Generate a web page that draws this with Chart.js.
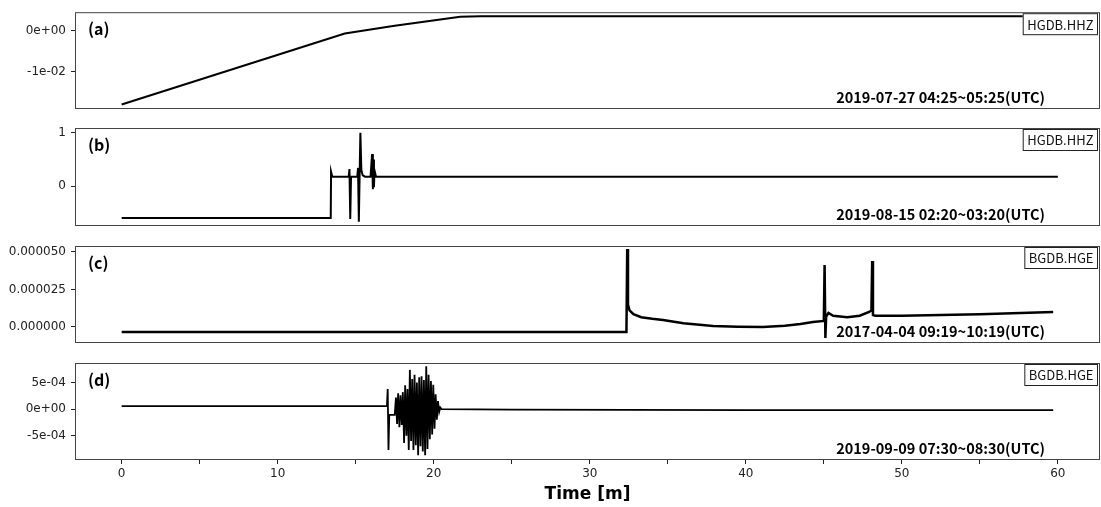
<!DOCTYPE html>
<html>
<head>
<meta charset="utf-8">
<script src="https://cdn.jsdelivr.net/npm/chart.js@4.4.1/dist/chart.umd.min.js"></script>
<style>
    html, body { margin: 0; padding: 0; background: #fff; }
    #wrap { position: relative; width: 1101px; height: 507px; }
    #wrap canvas { position: absolute; left: 0; top: 0; }
</style>
</head>
<body>
<div id="wrap">
    <canvas id="panelA" width="1101" height="507"></canvas>
    <canvas id="panelB" width="1101" height="507"></canvas>
    <canvas id="panelC" width="1101" height="507"></canvas>
    <canvas id="panelD" width="1101" height="507"></canvas>
</div>
<script>
// time axis (minutes)
const xMin = -2.99;
const xMax = 62.7;
const xTickValues = [0, 5, 10, 15, 20, 25, 30, 35, 40, 45, 50, 55, 60];
const xTickLabels = ['0', '', '10', '', '20', '', '30', '', '40', '', '50', '', '60'];

// (a) HGDB.HHZ 2019-07-27
const timeA = [0, 14.3, 17.5, 21.7, 23, 60];
const valuesA = [-0.018, -0.0007, 0.0012, 0.0034, 0.0035, 0.0035];
const yTicksA = [0, -0.01];
const yLabelsA = ['0e+00', '-1e-02'];

// (b) HGDB.HHZ 2019-08-15
const timeB = [0, 13.4, 13.42, 13.5, 14.55, 14.6, 14.65, 14.7, 15.1, 15.15, 15.2, 15.25, 15.3, 15.36, 15.45, 15.6,
    15.95, 16.05, 16.1, 16.13, 16.17, 16.2, 16.3, 60];
const valuesB = [-0.6, -0.6, 0.27, 0.175, 0.175, 0.32, -0.62, 0.175, 0.175, 0.34, -0.67, 0.2, 1.0, 0.3, 0.2, 0.175,
    0.175, 0.6, -0.06, 0.5, -0.02, 0.3, 0.175, 0.175];
const yTicksB = [1, 0];
const yLabelsB = ['1', '0'];

// (c) BGDB.HGE 2017-04-04
const timeC = [0, 32.35, 32.4, 32.45, 32.55, 32.8, 33.3, 34, 34.7, 36, 37.9, 39.5, 41.1, 42.5, 43.5, 44.3,
    45.0, 45.05, 45.1, 45.15, 45.3, 45.6, 46.5, 47.3, 47.9, 48.05, 48.1, 48.15, 48.3, 50, 55, 59.7];
const valuesC = [-3.3e-6, -3.3e-6, 5.2e-5, 1.5e-5, 1.1e-5, 8.5e-6, 6.5e-6, 5.5e-6, 4.7e-6, 2.5e-6, 0.7e-6, 0.2e-6, 0, 0.8e-6, 2.0e-6, 3.3e-6,
    4.0e-6, 4.13e-5, -7.3e-6, 7.0e-6, 9.3e-6, 7.5e-6, 6.5e-6, 7.5e-6, 1.0e-5, 1.1e-5, 4.4e-5, 8.0e-6, 7.5e-6, 7.5e-6, 8.5e-6, 1.0e-5];
const yTicksC = [0.00005, 0.000025, 0];
const yLabelsC = ['0.000050', '0.000025', '0.000000'];

// (d) BGDB.HGE 2019-09-09
const timeD = [0, 17.0, 17.05, 17.1, 17.15, 17.5, 17.58, 17.65, 17.72, 17.8, 17.87, 17.95, 18.02, 18.1, 18.17, 18.25,
    18.32, 18.4, 18.47, 18.55, 18.62, 18.7, 18.77, 18.85, 18.92, 19.0, 19.07, 19.15, 19.22, 19.3, 19.37, 19.45,
    19.52, 19.6, 19.67, 19.75, 19.82, 19.9, 19.97, 20.05, 20.12, 20.2, 20.27, 20.35, 20.42, 20.5, 25, 40, 59.7];
const valuesD = [5.7e-5, 5.7e-5, 3.8e-4, -7.7e-4, -1.1e-4, -1.1e-4, 2.2e-4, -2.8e-4, 3.0e-4, -3.4e-4, 2.6e-4, -3.0e-4, 3.2e-4, -6.4e-4, 4.5e-4, -5.0e-4,
    3.8e-4, -7.7e-4, 7.4e-4, -6.0e-4, 5.7e-4, -7.7e-4, 6.5e-4, -6.8e-4, 5.0e-4, -8.7e-4, 6.0e-4, -7.0e-4, 6.2e-4, -8.0e-4, 5.5e-4, -8.7e-4,
    8.1e-4, -7.5e-4, 6.5e-4, -5.7e-4, 5.3e-4, -4.8e-4, 4.6e-4, -3.7e-4, 2.8e-4, -2.0e-4, 1.5e-4, -0.5e-4, 0.3e-4, 0, -1e-5, -2e-5, -2e-5];
const yTicksD = [5e-4, 0, -5e-4];
const yLabelsD = ['5e-04', '0e+00', '-5e-04'];

const tickFont = { family: 'DejaVu Sans', size: 12 };
const annoFont = '"Noto Sans CJK KR", "Noto Sans", sans-serif';

const toPoints = (xs, ys) => xs.map((x, i) => ({ x: x, y: ys[i] }));

const panelDecor = (letter, station, date) => ({
    id: 'panelDecor',
    afterDraw(chart) {
        const { ctx, chartArea } = chart;
        const { left, top, right, bottom } = chartArea;
        ctx.save();
        // frame
        ctx.strokeStyle = '#444';
        ctx.lineWidth = 1;
        ctx.strokeRect(left + 0.5, top + 0.5, right - left - 1, bottom - top - 1);

        // panel letter
        ctx.fillStyle = '#000';
        ctx.font = 'bold 16px ' + annoFont;
        ctx.textAlign = 'left';
        ctx.textBaseline = 'middle';
        ctx.fillText(letter, left + 13, top + 17);

        // station box
        ctx.font = '13px ' + annoFont;
        const w = ctx.measureText(station).width + 8;
        const bx = right - 3 - w;
        const by = top + 1;
        ctx.fillStyle = '#fff';
        ctx.fillRect(bx, by, w, 21);
        ctx.strokeStyle = '#222';
        ctx.strokeRect(bx + 0.5, by + 0.5, w, 21);
        ctx.fillStyle = '#111';
        ctx.textAlign = 'center';
        ctx.fillText(station, bx + w / 2 + 0.5, by + 11.5);

        // date range
        ctx.font = 'bold 14.5px ' + annoFont;
        ctx.textAlign = 'right';
        ctx.fillStyle = '#000';
        ctx.fillText(date, right - 55, bottom - 12);
        ctx.restore();
    }
});

const makePanel = (canvasId, xs, ys, yMin, yMax, yTicks, yLabels, padTop, padBottom, showX, decor, lineWidth) => {
    const ctx = document.getElementById(canvasId).getContext('2d');
    return new Chart(ctx, {
        type: 'line',
        data: {
            datasets: [{
                data: toPoints(xs, ys),
                borderColor: '#000',
                borderWidth: lineWidth,
                pointRadius: 0,
                tension: 0,
                fill: false
            }]
        },
        options: {
            responsive: false,
            animation: false,
            events: [],
            layout: { padding: { top: padTop, bottom: padBottom, left: 0, right: 1 } },
            plugins: { legend: { display: false }, tooltip: { enabled: false } },
            scales: {
                x: {
                    type: 'linear',
                    min: xMin,
                    max: xMax,
                    display: showX,
                    afterBuildTicks: (scale) => {
                        scale.ticks = xTickValues.map(v => ({ value: v }));
                    },
                    afterFit: (scale) => { scale.height = showX ? 47 : 0; },
                    grid: { drawOnChartArea: false, tickLength: 4, tickColor: '#222' },
                    border: { display: false },
                    ticks: {
                        font: tickFont,
                        color: '#222',
                        padding: 3,
                        maxRotation: 0,
                        autoSkip: false,
                        callback: (v, i) => xTickLabels[i]
                    },
                    title: {
                        display: true,
                        text: 'Time [m]',
                        color: '#000',
                        font: { family: 'DejaVu Sans', size: 17, weight: 'bold' },
                        padding: { top: 0, bottom: 2 }
                    }
                },
                y: {
                    type: 'linear',
                    min: yMin,
                    max: yMax,
                    afterBuildTicks: (scale) => {
                        scale.ticks = yTicks.map(v => ({ value: v }));
                    },
                    afterFit: (scale) => { scale.width = 75; },
                    grid: { drawOnChartArea: false, tickLength: 4, tickColor: '#222' },
                    border: { display: false },
                    ticks: {
                        font: tickFont,
                        color: '#222',
                        padding: 5,
                        autoSkip: false,
                        callback: (v, i) => yLabels[i]
                    }
                }
            }
        },
        plugins: [decor]
    });
};

makePanel('panelA', timeA, valuesA, -0.0191, 0.0045, yTicksA, yLabelsA, 12, 398, false,
    panelDecor('(a)', 'HGDB.HHZ', '2019-07-27 04:25~05:25(UTC)'), 2);
makePanel('panelB', timeB, valuesB, -0.75, 1.09, yTicksB, yLabelsB, 128, 281, false,
    panelDecor('(b)', 'HGDB.HHZ', '2019-08-15 02:20~03:20(UTC)'), 2);
makePanel('panelC', timeC, valuesC, -1.07e-5, 5.4e-5, yTicksC, yLabelsC, 246, 164, false,
    panelDecor('(c)', 'BGDB.HGE', '2017-04-04 09:19~10:19(UTC)'), 2.5);
makePanel('panelD', timeD, valuesD, -9.6e-4, 8.7e-4, yTicksD, yLabelsD, 363, 0, true,
    panelDecor('(d)', 'BGDB.HGE', '2019-09-09 07:30~08:30(UTC)'), 1.8);
</script>
</body>
</html>
